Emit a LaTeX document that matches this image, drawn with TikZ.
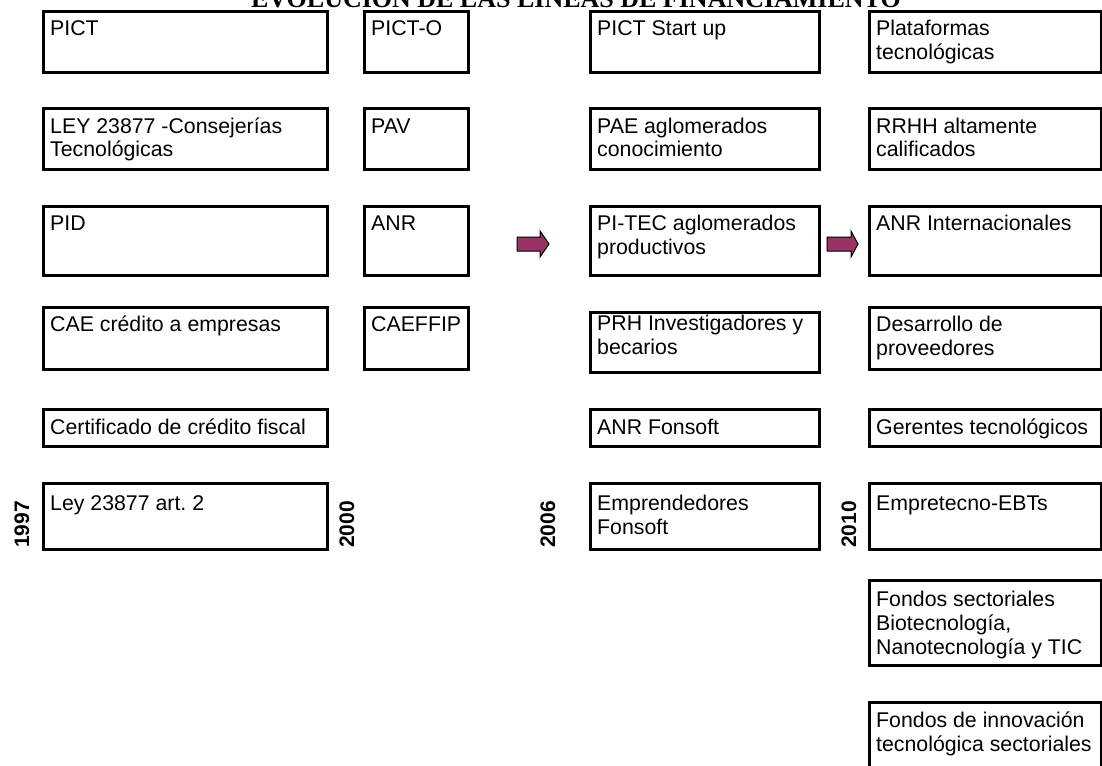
\documentclass[tikz,border=0pt]{standalone}
\usepackage{fontspec}
\setmainfont{Liberation Sans}
\newfontfamily\titleserif{Liberation Serif}
\definecolor{plum}{RGB}{153,51,102}
\frenchspacing

\tikzset{
  tb/.style={draw=black, line width=2.6pt, rectangle, inner sep=0pt, anchor=north west},
  tt/.style={inner sep=0pt, anchor=base west, font=\fontsize{21.3}{24}\selectfont},
  yearlbl/.style={inner sep=0pt, anchor=base west, rotate=90, font=\fontsize{21}{24}\selectfont\bfseries},
  fatarrow/.style={fill=plum, draw=black, line width=1pt, line join=miter},
}

% box: name, x1, y1, x2, y2, first-baseline offset, text
\newcommand\tbox[7]{%
  \node[tb, minimum width={#4-#2}, minimum height={#5-#3}] (#1) at (#2,#3) {};
  \node[tt] (#1-t) at (#2+8,#3+#6) {\parbox[t]{260pt}{\raggedright #7}};%
}

\begin{document}
\begin{tikzpicture}[x=1pt, y=-1pt]
\useasboundingbox (0,0) rectangle (1102,765);
\clip (0,0) rectangle (1102,765);

% heading (cut by the top edge)
\node[inner sep=0pt, anchor=base, font=\titleserif\bfseries\fontsize{26}{30}\selectfont] (title)
  at (576,7.5) {EVOLUCIÓN DE LAS LÍNEAS DE FINANCIAMIENTO};

% column 1997-2000
\tbox{a1}{42}{10}{326}{71}{25.5}{PICT}
\tbox{a2}{42}{107}{326}{168}{26}{LEY 23877 -Consejerías\\Tecnológicas}
\tbox{a3}{42}{205}{326}{274}{25}{PID}
\tbox{a4}{42}{306}{326}{368}{25}{CAE crédito a empresas}
\tbox{a5}{42}{408}{326}{445}{26}{Certificado de crédito fiscal}
\tbox{a6}{42}{482}{326}{548}{28}{Ley 23877 art. 2}

% column 2000
\tbox{b1}{363}{10}{467}{71}{25.5}{PICT-O}
\tbox{b2}{363}{107}{467}{168}{26}{PAV}
\tbox{b3}{363}{205}{467}{274}{25}{ANR}
\tbox{b4}{363}{306}{467}{368}{25}{CAEFFIP}

% column 2006
\tbox{c1}{589}{10}{818}{71}{25.5}{PICT Start up}
\tbox{c2}{589}{107}{818}{168}{26}{PAE aglomerados\\conocimiento}
\tbox{c3}{589}{205}{818}{274}{25}{PI-TEC aglomerados\\productivos}
\tbox{c4}{589}{311}{818}{371}{19}{PRH Investigadores y\\becarios}
\tbox{c5}{589}{408}{818}{445}{26}{ANR Fonsoft}
\tbox{c6}{589}{482}{818}{548}{28}{Emprendedores\\Fonsoft}

% column 2010
\tbox{d1}{868}{10}{1100}{71}{25.5}{Plataformas\\tecnológicas}
\tbox{d2}{868}{107}{1100}{168}{26}{RRHH altamente\\calificados}
\tbox{d3}{868}{205}{1100}{274}{25}{ANR Internacionales}
\tbox{d4}{868}{306}{1100}{368}{25}{Desarrollo de\\proveedores}
\tbox{d5}{868}{408}{1100}{445}{26}{Gerentes tecnológicos}
\tbox{d6}{868}{482}{1100}{548}{28}{Empretecno-EBTs}
\tbox{d7}{868}{579}{1100}{664}{27}{Fondos sectoriales\\Biotecnología,\\Nanotecnología y TIC}
\tbox{d8}{868}{701}{1100}{775}{26}{Fondos de innovación\\tecnológica sectoriales}

% year marks
\node[yearlbl] (y1997) at (29,548) {1997};
\node[yearlbl] (y2000) at (354,548) {2000};
\node[yearlbl] (y2006) at (555,548) {2006};
\node[yearlbl] (y2010) at (856,548) {2010};

% block arrows between periods
\draw[fatarrow] (517,237) -- (540,237) -- (540,231) -- (549,244) -- (540,257) -- (540,251) -- (517,251) -- cycle;
\draw[fatarrow] (827,237) -- (851,237) -- (851,231) -- (858,244) -- (851,257) -- (851,251) -- (827,251) -- cycle;
\end{tikzpicture}
\end{document}
